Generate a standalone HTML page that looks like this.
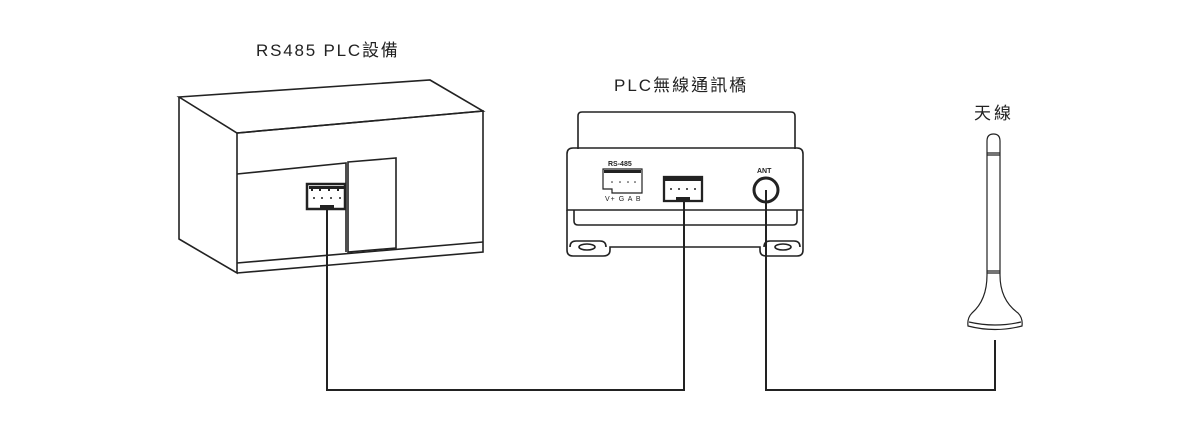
<!DOCTYPE html>
<html><head><meta charset="utf-8"><style>
body{margin:0;background:#fff;width:1200px;height:442px;overflow:hidden}
svg{display:block}
text{font-family:"Liberation Sans","Noto Sans CJK TC",sans-serif;fill:#222}
</style></head><body>
<svg width="1200" height="442" viewBox="0 0 1200 442" fill="none" stroke="#222" stroke-width="1.6">
<text x="256" y="56" font-size="17" letter-spacing="1.8" stroke="none">RS485 PLC設備</text>
<text x="614" y="91" font-size="17" letter-spacing="2" stroke="none">PLC無線通訊橋</text>
<text x="974" y="119" font-size="17" letter-spacing="3" stroke="none">天線</text>
<!-- PLC device -->
<path d="M179 97 L430 80 L483 111 L237 133 Z"/>
<path d="M179 97 V239 L237 273 V133"/>
<path d="M237 133 L483 111 V252 L237 273"/>
<path d="M237 174 L346 163 V252"/>
<path d="M348 162 L396 158 V248 L348 252 Z"/>
<path d="M237 263 L483 242"/>
<rect x="307" y="184" width="38" height="25" fill="#fff" stroke-width="2.5"/>
<rect x="320" y="205" width="14" height="4" fill="#222" stroke="none"/>
<g fill="#222" stroke="none"><rect x="309" y="186" width="36" height="3"/><rect x="311" y="189" width="2" height="2"/><rect x="319" y="189" width="2" height="2"/><rect x="328" y="189" width="2" height="2"/><rect x="337" y="189" width="2" height="2"/>
<circle cx="314" cy="198" r="1"/><circle cx="322" cy="198" r="1"/><circle cx="331" cy="198" r="1"/><circle cx="340" cy="198" r="1"/></g>
<!-- bridge -->
<path d="M578 149 V116 Q578 112 582 112 H791 Q795 112 795 116 V149"/>
<path d="M567 210 V154 Q567 148 573 148 H797 Q803 148 803 154 V210 Z"/>
<path d="M574 210 V221 Q574 225 578 225 H793 Q797 225 797 221 V210"/>
<path d="M567 210 V250 Q567 256 573 256 H603 Q610 256 610 250 V247 H760 V250 Q760 256 766 256 H797 Q803 256 803 250 V210"/>
<path d="M570 247 Q570 241 576 241 H600 Q606 241 606 247"/>
<path d="M764 247 Q764 241 770 241 H794 Q800 241 800 247"/>
<ellipse cx="587" cy="247" rx="8" ry="3"/>
<ellipse cx="783" cy="247" rx="8" ry="3"/>
<text x="608" y="166" font-size="7" font-weight="bold" stroke="none">RS-485</text>
<path d="M603 169 H642 V193 H612 V189 H603 Z" stroke-width="1.2"/>
<g fill="#222" stroke="none"><rect x="604" y="170" width="37" height="3"/><circle cx="612" cy="182" r=".8"/><circle cx="620" cy="182" r=".8"/><circle cx="628" cy="182" r=".8"/><circle cx="635" cy="182" r=".8"/></g>
<text x="605" y="201" font-size="7" letter-spacing="1" stroke="none">V+ G  A  B</text>
<rect x="664" y="177" width="38" height="24" stroke-width="2.3"/>
<rect x="676" y="197" width="14" height="4" fill="#222" stroke="none"/>
<g fill="#222" stroke="none"><rect x="665" y="178" width="36" height="3"/><circle cx="671" cy="189" r="1"/><circle cx="679" cy="189" r="1"/><circle cx="687" cy="189" r="1"/><circle cx="695" cy="189" r="1"/></g>
<text x="757" y="173" font-size="7" font-weight="bold" stroke="none">ANT</text>
<circle cx="766" cy="190" r="12" stroke-width="3"/>
<!-- cables -->
<path d="M327 209 V390 H684 V200" stroke-width="2"/>
<path d="M766 190 V390 H995 V340" stroke-width="2"/>
<!-- antenna -->
<g stroke-width="1.2">
<path d="M987 275 V141 Q987 134 993.5 134 Q1000 134 1000 141 V275 Q1000 300 1018 313 Q1023 318 1022 326 Q995 333 968 326 Q967 318 972 313 Q987 300 987 275 Z"/>
<path d="M987 153 H1000 M987 155 H1000 M987 271 H1000 M987 273 H1000"/>
<path d="M969 322 Q995 328 1021 322"/>
</g>
</svg>
</body></html>
